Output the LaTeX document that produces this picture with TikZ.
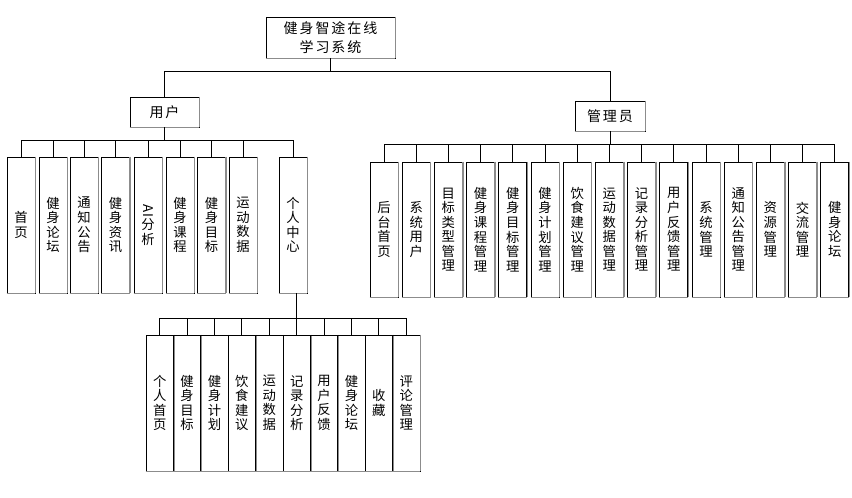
\documentclass[tikz,border=0pt]{standalone}
\usepackage{fontspec}
\usepackage{graphicx}
\newfontfamily\cjk[LetterSpace=8]{Noto Sans CJK SC}
\newfontfamily\cjkwide[LetterSpace=14]{Noto Sans CJK SC}
\begin{document}
\begin{tikzpicture}[x=0.75pt,y=-0.75pt,
  box/.style={draw=black, line width=0.7pt, inner sep=0pt, align=center,
    text=black, font=\cjk\fontsize{10}{10.9}\selectfont,
    append after command={
      (\tikzlastnode.north east) edge[draw=gray!90, line width=1pt] (\tikzlastnode.south east)
      (\tikzlastnode.south west) edge[draw=gray!90, line width=1pt] (\tikzlastnode.south east)}},
  topbox/.style={box, font=\cjkwide\fontsize{10.5}{14.3}\selectfont},
  ubox/.style={box, minimum width=28*0.75pt, minimum height=136*0.75pt},
  abox/.style={box, minimum width=28*0.75pt, minimum height=135*0.75pt},
  sbox/.style={box, minimum width=27.4*0.75pt, minimum height=136*0.75pt},
  link/.style={draw=black, line width=0.7pt}]
\useasboundingbox (0,0) rectangle (852,498);
\fill[white] (0,0) rectangle (852,498);

% root and second level
\node[topbox, minimum width=129*0.75pt, minimum height=41*0.75pt] (root) at (330.5,37.5) {健身智途在线\\学习系统};
\node[topbox, minimum width=69*0.75pt, minimum height=30*0.75pt] (user) at (164.5,112) {用户};
\node[topbox, minimum width=70*0.75pt, minimum height=30*0.75pt] (admin) at (610,116) {管理员};

% user leaves
\node[ubox] (u1) at (21,225) {首\\页};
\node[ubox] (u2) at (53,225) {健\\身\\论\\坛};
\node[ubox] (u3) at (84,225) {通\\知\\公\\告};
\node[ubox] (u4) at (115.5,225) {健\\身\\资\\讯};
\node[ubox] (u5) at (148,225) {\rotatebox{-90}{AI}\\分\\析};
\node[ubox] (u6) at (180,225) {健\\身\\课\\程};
\node[ubox] (u7) at (211.5,225) {健\\身\\目\\标};
\node[ubox] (u8) at (243,225) {运\\动\\数\\据};
\node[ubox] (u9) at (293,225) {个\\人\\中\\心};

% admin leaves
\node[abox] (a1) at (384,229.5) {后\\台\\首\\页};
\node[abox] (a2) at (416.2,229.5) {系\\统\\用\\户};
\node[abox] (a3) at (448.4,229.5) {目\\标\\类\\型\\管\\理};
\node[abox] (a4) at (480.6,229.5) {健\\身\\课\\程\\管\\理};
\node[abox] (a5) at (512.8,229.5) {健\\身\\目\\标\\管\\理};
\node[abox] (a6) at (545,229.5) {健\\身\\计\\划\\管\\理};
\node[abox] (a7) at (577.2,229.5) {饮\\食\\建\\议\\管\\理};
\node[abox] (a8) at (609.4,229.5) {运\\动\\数\\据\\管\\理};
\node[abox] (a9) at (641.6,229.5) {记\\录\\分\\析\\管\\理};
\node[abox] (a10) at (673.8,229.5) {用\\户\\反\\馈\\管\\理};
\node[abox] (a11) at (706,229.5) {系\\统\\管\\理};
\node[abox] (a12) at (738.2,229.5) {通\\知\\公\\告\\管\\理};
\node[abox] (a13) at (770.4,229.5) {资\\源\\管\\理};
\node[abox] (a14) at (802.6,229.5) {交\\流\\管\\理};
\node[abox] (a15) at (834.8,229.5) {健\\身\\论\\坛};

% personal centre leaves
\node[sbox] (s1) at (159.7,403) {个\\人\\首\\页};
\node[sbox] (s2) at (187.1,403) {健\\身\\目\\标};
\node[sbox] (s3) at (214.5,403) {健\\身\\计\\划};
\node[sbox] (s4) at (241.9,403) {饮\\食\\建\\议};
\node[sbox] (s5) at (269.3,403) {运\\动\\数\\据};
\node[sbox] (s6) at (296.7,403) {记\\录\\分\\析};
\node[sbox] (s7) at (324.1,403) {用\\户\\反\\馈};
\node[sbox] (s8) at (351.5,403) {健\\身\\论\\坛};
\node[sbox] (s9) at (378.9,403) {收\\藏};
\node[sbox] (s10) at (406.3,403) {评\\论\\管\\理};

% connectors
\draw[link] (root.south) -- ++(0,13) -| (user.north);
\draw[link] (root.south) -- ++(0,13) -| (admin.north);
\foreach \i in {1,...,9}
  \draw[link] (user.south) -- ++(0,13) -| (u\i.north);
\foreach \i in {1,...,15}
  \draw[link] (admin.south) -- ++(0,13) -| (a\i.north);
\foreach \i in {1,...,10}
  \draw[link] (u9.south -| s6.north) -- ++(0,25) -| (s\i.north);
\end{tikzpicture}
\end{document}
